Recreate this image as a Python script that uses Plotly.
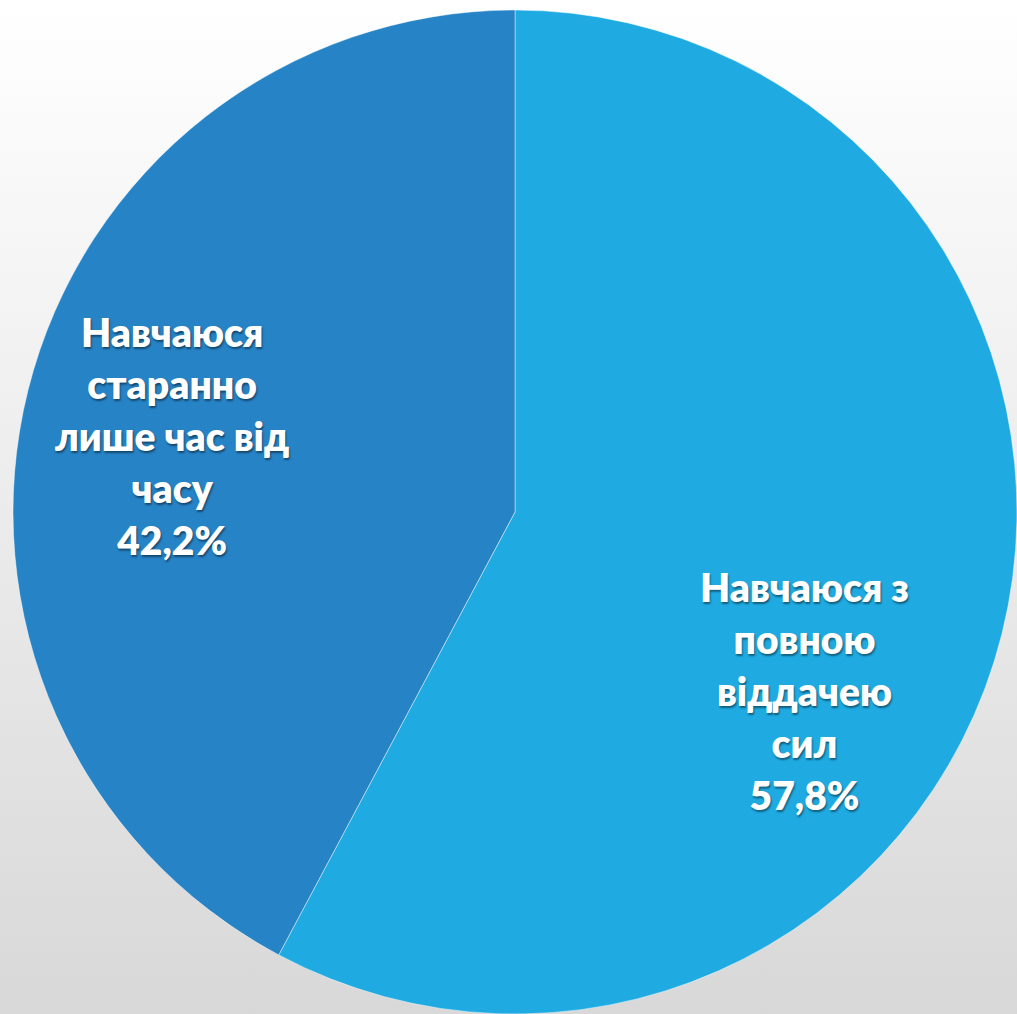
import base64
import plotly.graph_objects as go

# ---- data ----
labels = ["Навчаюся з<br>повною<br>віддачею<br>сил", "Навчаюся<br>старанно<br>лише час від<br>часу"]
values = [57.8, 42.2]

# ---- style ----
colors = ["#1FABE2", "#2683C6"]
label_pos = [(0.7906, 0.3185), (0.1691, 0.570)]

W, H = 1017, 1014

fig = go.Figure()
fig.add_trace(go.Pie(
    labels=[l.replace("<br>", " ") for l in labels],
    values=values,
    sort=False,
    direction="clockwise",
    rotation=0,
    marker=dict(colors=colors, line=dict(color="rgba(255,255,255,0.45)", width=1)),
    textinfo="none",
    hoverinfo="label+percent",
    showlegend=False,
    domain=dict(x=[13 / W, 1.0], y=[0.0, 1 - 10 / H]),
))

for lab, val, (px, py) in zip(labels, values, label_pos):
    pct = f"{val:.1f}".replace(".", ",") + "%"
    txt = f"<span style='font-size:39px'>{lab}<br>{pct}</span>"
    fig.add_annotation(
        x=px, y=py, xref="paper", yref="paper",
        text=txt, showarrow=False, align="center",
        xanchor="center", yanchor="middle",
        font=dict(family="Lato", size=40, color="white", weight=800,
                  shadow="1px 2px 2px rgba(0,0,0,0.45)"),
    )

svg = (
    "<svg xmlns='http://www.w3.org/2000/svg' width='100' height='100' preserveAspectRatio='none'>"
    "<defs><linearGradient id='g' x1='0' y1='0' x2='0' y2='1'>"
    "<stop offset='0' stop-color='#ffffff'/><stop offset='1' stop-color='#d8d8d8'/>"
    "</linearGradient></defs><rect width='100' height='100' fill='url(#g)'/></svg>"
)
src = "data:image/svg+xml;base64," + base64.b64encode(svg.encode()).decode()

fig.update_layout(
    width=W, height=H,
    margin=dict(l=0, r=0, t=0, b=0),
    paper_bgcolor="white",
    plot_bgcolor="white",
    images=[dict(source=src, xref="paper", yref="paper", x=0, y=1, sizex=1, sizey=1,
                 sizing="stretch", xanchor="left", yanchor="top", layer="below")],
)

fig.write_html("out.html",
               config={"displayModeBar": False},
               post_script="document.body.style.margin='0';document.body.style.overflow='hidden';")
